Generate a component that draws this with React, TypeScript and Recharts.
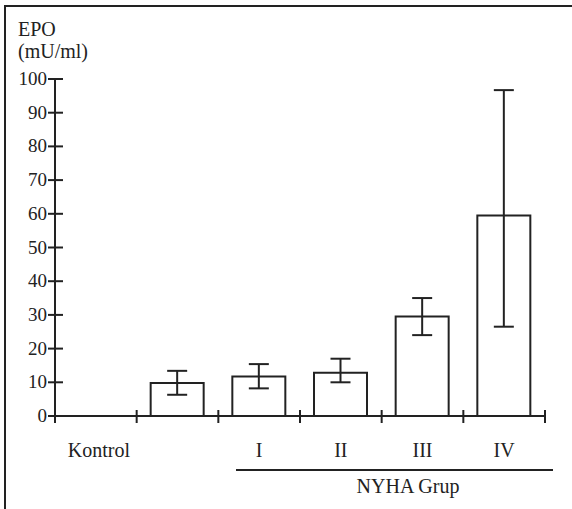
import { BarChart, Bar, XAxis, YAxis, ErrorBar } from "recharts"

const categories = ["Kontrol", "", "I", "II", "III", "IV"]
const epoMean = [null, 9.8, 11.7, 12.8, 29.5, 59.5]
const errLow = [null, 3.5, 3.5, 2.8, 5.5, 33]
const errHigh = [null, 3.6, 3.7, 4.2, 5.5, 37.2]
const yTicks = [0, 10, 20, 30, 40, 50, 60, 70, 80, 90, 100]

const data = categories.map((name, i) => ({
  name,
  epo: epoMean[i],
  err: errLow[i] == null ? null : [errLow[i], errHigh[i]],
}))

const INK = "#222"
const FONT = "'Liberation Serif', 'Times New Roman', serif"
const W = 572
const H = 509
const M = { top: 79, right: 27, left: 5, bottom: 63 }
const BAND = (W - 55 - M.right) / categories.length

function YTick({ x, y, payload }: any) {
  return (
    <g>
      <line x1={x - 7} x2={x + 8} y1={y} y2={y} stroke={INK} strokeWidth={2} />
      <text x={x - 8} y={y} dy={6} textAnchor="end" fontSize={19} fontFamily={FONT} fill={INK}>
        {payload.value}
      </text>
    </g>
  )
}

function XTick({ x, y, payload, index }: any) {
  const left = x - BAND / 2
  return (
    <g>
      <line x1={left} x2={left} y1={y - 6} y2={y + 7} stroke={INK} strokeWidth={2} />
      {index === categories.length - 1 && (
        <line x1={x + BAND / 2} x2={x + BAND / 2} y1={y - 6} y2={y + 7} stroke={INK} strokeWidth={2} />
      )}
      <text x={x + (index === 0 ? 3 : 0)} y={y + 41} textAnchor="middle" fontSize={20} fontFamily={FONT} fill={INK}>
        {payload.value}
      </text>
    </g>
  )
}

export default function App() {
  return (
    <div style={{ position: "fixed", left: 0, top: 0, width: W, height: H, background: "#fff", fontFamily: FONT, color: INK }}>
      <div
        style={{
          position: "absolute",
          left: 4,
          top: 5,
          width: W - 4,
          height: H - 5,
          borderTop: `2px solid ${INK}`,
          borderLeft: `2px solid ${INK}`,
        }}
      />
      <div style={{ position: "absolute", left: 18, top: 18, fontSize: 20, lineHeight: "22px" }}>
        EPO
        <br />
        (mU/ml)
      </div>
      <BarChart width={W} height={H} data={data} margin={M} barSize={53}>
        <YAxis
          width={50}
          domain={[0, 100]}
          ticks={yTicks}
          interval={0}
          tickSize={0}
          tickMargin={0}
          tickLine={false}
          axisLine={{ stroke: INK, strokeWidth: 2 }}
          tick={<YTick />}
        />
        <XAxis
          dataKey="name"
          height={30}
          interval={0}
          tickSize={0}
          tickMargin={0}
          tickLine={false}
          axisLine={{ stroke: INK, strokeWidth: 2 }}
          tick={<XTick />}
        />
        <Bar dataKey="epo" fill="#fff" stroke={INK} strokeWidth={2} isAnimationActive={false}>
          <ErrorBar dataKey="err" width={10} stroke={INK} strokeWidth={2} direction="y" />
        </Bar>
      </BarChart>
      <div style={{ position: "absolute", left: 236, top: 469, width: 317, height: 0, borderTop: `2px solid ${INK}` }} />
      <div style={{ position: "absolute", left: 308, width: 200, top: 475, textAlign: "center", fontSize: 20 }}>
        NYHA Grup
      </div>
    </div>
  )
}
